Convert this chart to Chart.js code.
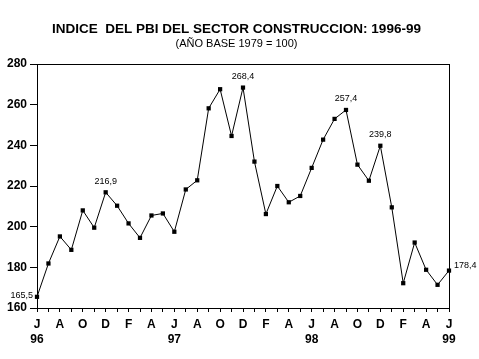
<!DOCTYPE html>
<html>
<head>
<meta charset="utf-8">
<script src="https://cdn.jsdelivr.net/npm/chart.js@4/dist/chart.umd.min.js"></script>
<style>
  html, body { margin: 0; padding: 0; background: #fff; }
  #wrap { width: 479px; height: 359px; }
</style>
</head>
<body>
<div id="wrap"><canvas id="grafico" width="479" height="359"></canvas></div>
<script>
// Meses (jun 96 - jun 99)
const meses = [
  'jun-96','jul-96','ago-96','sep-96','oct-96','nov-96','dic-96',
  'ene-97','feb-97','mar-97','abr-97','may-97','jun-97','jul-97','ago-97','sep-97','oct-97','nov-97','dic-97',
  'ene-98','feb-98','mar-98','abr-98','may-98','jun-98','jul-98','ago-98','sep-98','oct-98','nov-98','dic-98',
  'ene-99','feb-99','mar-99','abr-99','may-99','jun-99'
];
// Letra que se muestra bajo el eje (cada 2 meses)
const letras = [
  'J','','A','','O','','D','','F','','A','',
  'J','','A','','O','','D','','F','','A','',
  'J','','A','','O','','D','','F','','A','',
  'J'
];
// Año bajo la letra de junio
const anios = ['96','','','','','','','','','','','',
  '97','','','','','','','','','','','',
  '98','','','','','','','','','','','',
  '99'];

const indice = [
  165.5, 181.9, 195.2, 188.6, 208.0, 199.5, 216.9,
  210.3, 201.6, 194.5, 205.5, 206.5, 197.5, 218.3, 222.8, 258.2, 267.6, 244.6, 268.4,
  232.0, 206.2, 220.0, 212.0, 215.1, 228.9, 242.8, 253.0, 257.4, 230.5, 222.6, 239.8,
  209.5, 172.2, 192.2, 178.8, 171.4, 178.4
];

// Puntos con etiqueta y su posición
const etiquetas = [0, 6, 18, 27, 30, 36];
const posEtiqueta = ['izq', 'arriba', 'arriba', 'arriba', 'arriba', 'der'];

const formato = v => v.toFixed(1).replace('.', ',');
const fuenteEje = '"Liberation Sans", Arial, sans-serif';

const marco = {
  id: 'marco',
  afterDatasetsDraw(chart) {
    const { ctx, chartArea: a } = chart;
    ctx.save();
    ctx.strokeStyle = '#000';
    ctx.lineWidth = 1;
    ctx.strokeRect(Math.round(a.left) + 0.5, Math.round(a.top) + 0.5,
      Math.round(a.right - a.left), Math.round(a.bottom - a.top));
    ctx.restore();
  },
  afterDraw(chart) {
    const { ctx } = chart;
    const meta = chart.getDatasetMeta(0);
    ctx.save();
    ctx.fillStyle = '#000';
    ctx.textBaseline = 'middle';
    ctx.textAlign = 'center';
    ctx.font = 'bold 13.5px "Liberation Sans", Arial, sans-serif';
    ctx.fillText('INDICE  DEL PBI DEL SECTOR CONSTRUCCION: 1996-99', 236.5, 29.5);
    ctx.font = '11px "Liberation Sans", Arial, sans-serif';
    ctx.fillText('(AÑO BASE 1979 = 100)', 236.5, 44);

    ctx.font = '9px "Liberation Sans", Arial, sans-serif';
    etiquetas.forEach((i, k) => {
      const p = meta.data[i];
      const txt = formato(indice[i]);
      if (posEtiqueta[k] === 'izq') {
        ctx.textAlign = 'right';
        ctx.fillText(txt, p.x - 4, p.y - 1);
      } else if (posEtiqueta[k] === 'der') {
        ctx.textAlign = 'left';
        ctx.fillText(txt, p.x + 5, p.y - 5);
      } else {
        ctx.textAlign = 'center';
        ctx.fillText(txt, p.x, p.y - 11);
      }
    });
    ctx.restore();
  }
};

new Chart(document.getElementById('grafico'), {
  type: 'line',
  data: {
    labels: meses,
    datasets: [{
      data: indice,
      borderColor: '#000',
      borderWidth: 1,
      tension: 0,
      pointStyle: 'rect',
      pointRadius: 3,
      pointBackgroundColor: '#000',
      pointBorderColor: '#000',
      pointBorderWidth: 0,
      clip: false
    }]
  },
  options: {
    responsive: false,
    animation: false,
    layout: { padding: { left: 0, right: 30, top: 64, bottom: 0 } },
    plugins: {
      legend: { display: false },
      tooltip: { enabled: false }
    },
    scales: {
      x: {
        type: 'category',
        offset: false,
        afterFit: s => { s.height = 51; },
        border: { display: true, color: '#000', width: 1 },
        grid: { drawOnChartArea: false, drawTicks: true, tickLength: 4, color: '#000' },
        ticks: {
          autoSkip: false,
          maxRotation: 0,
          padding: 5,
          color: '#000',
          font: { family: fuenteEje, size: 12, weight: 'bold', lineHeight: 1.28 },
          callback: (v, i) => anios[i] ? [letras[i], anios[i]] : letras[i]
        }
      },
      y: {
        min: 160,
        max: 280,
        afterFit: s => { s.width = 37; },
        border: { display: true, color: '#000', width: 1 },
        grid: { drawOnChartArea: false, drawTicks: true, tickLength: 7, color: '#000' },
        ticks: {
          stepSize: 20,
          padding: 3,
          color: '#000',
          font: { family: fuenteEje, size: 12, weight: 'bold' }
        }
      }
    }
  },
  plugins: [marco]
});
</script>
</body>
</html>
